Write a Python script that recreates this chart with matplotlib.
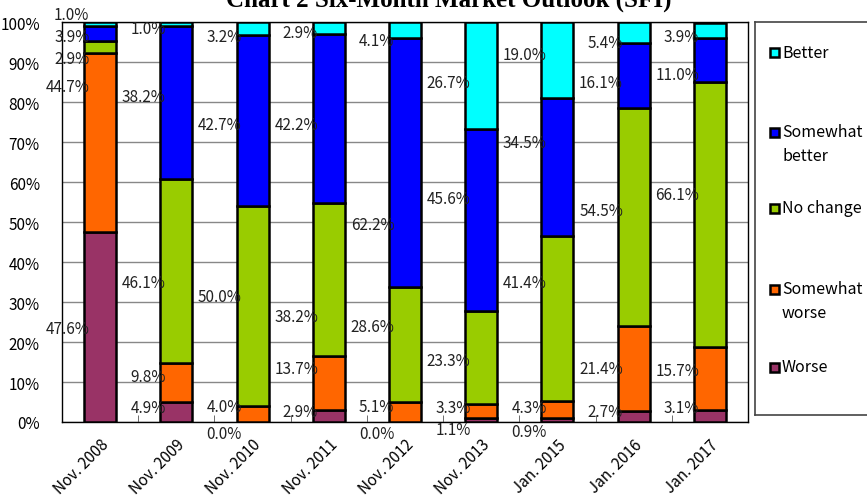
import matplotlib
matplotlib.use("Agg")
import numpy as np
from matplotlib import pyplot as plt
from matplotlib.patches import Rectangle

## Survey results (percent of respondents)
periods = ['Nov. 2008', 'Nov. 2009', 'Nov. 2010', 'Nov. 2011', 'Nov. 2012',
           'Nov. 2013', 'Jan. 2015', 'Jan. 2016', 'Jan. 2017']
worse = [47.6, 4.9, 0.0, 2.9, 0.0, 1.1, 0.9, 2.7, 3.1]
somewhat_worse = [44.7, 9.8, 4.0, 13.7, 5.1, 3.3, 4.3, 21.4, 15.7]
no_change = [2.9, 46.1, 50.0, 38.2, 28.6, 23.3, 41.4, 54.5, 66.1]
somewhat_better = [3.9, 38.2, 42.7, 42.2, 62.2, 45.6, 34.5, 16.1, 11.0]
better = [1.0, 1.0, 3.2, 2.9, 4.1, 26.7, 19.0, 5.4, 3.9]

series = [worse, somewhat_worse, no_change, somewhat_better, better]
names = ['Worse', 'Somewhat\nworse', 'No change', 'Somewhat\nbetter', 'Better']
colors = ['#993366', '#FF6600', '#99CC00', '#0000FF', '#00FFFF']

## Where each value label sits (percent height), per series
label_y = [
    [23.3, 3.5, -2.8, 2.5, -2.8, -2.0, -2.3, 2.5, 3.5],
    [83.8, 11.3, 3.8, 13.3, 3.8, 3.5, 3.5, 13.5, 12.8],
    [90.8, 34.8, 31.3, 26.3, 24.0, 15.3, 34.8, 53.0, 56.8],
    [96.3, 81.5, 74.5, 74.5, 49.5, 55.8, 69.8, 85.0, 86.8],
    [102.0, 98.3, 96.5, 97.3, 95.3, 84.8, 91.8, 95.0, 96.5],
]

plt.rcParams['font.family'] = ['Noto Sans CJK JP', 'DejaVu Sans']

fig = plt.figure(figsize=(8.67, 5.02), dpi=100)
ax = fig.add_axes([62 / 867, (502 - 423) / 502, (748 - 62) / 867, 400 / 502])

x = np.arange(len(periods))
width = 0.42
bottom = np.zeros(len(periods))
for vals, col in zip(series, colors):
    ax.bar(x, vals, width, bottom=bottom, color=col, edgecolor='black',
           linewidth=1.8, zorder=3)
    bottom += np.array(vals)

# value labels to the left of each bar
for vals, ys in zip(series, label_y):
    for i, (v, yy) in enumerate(zip(vals, ys)):
        ax.text(i - width / 2 + 0.07, yy, f'{v:.1f}%', ha='right', va='center',
                fontsize=11, color='#222222', zorder=4, clip_on=False)

ax.set_xlim(-0.5, len(periods) - 0.5)
ax.set_ylim(0, 100)
ax.set_yticks(np.arange(0, 101, 10))
ax.set_yticklabels([f'{t}%' for t in range(0, 101, 10)], fontsize=11)
ax.yaxis.grid(True, color='#888888', linewidth=1.0, zorder=0)
ax.tick_params(axis='y', length=0, pad=16)

# category labels, ticks at the boundaries
ax.set_xticks(x)
ax.set_xticklabels(periods, rotation=45, ha='right', rotation_mode='anchor',
                   fontsize=11)
ax.tick_params(axis='x', length=0, pad=10)
ax.set_xticks(np.arange(0.5, len(periods) - 0.5, 1), minor=True)
ax.tick_params(axis='x', which='minor', direction='in', length=5, color='#555555')
for s in ax.spines.values():
    s.set_color('black')
    s.set_linewidth(1.0)

fig.text(449 / 867, 1 - 7 / 502, 'Chart 2 Six-Month Market Outlook (SFI)',
         ha='center', va='baseline', fontsize=18, family='Liberation Serif',
         fontweight='bold')

## Legend panel
lax = fig.add_axes([755 / 867, (502 - 416) / 502, 0.2, 393 / 502])
lax.set_xlim(755, 755 + 0.2 * 867)
lax.set_ylim(416, 23)
lax.set_xticks([])
lax.set_yticks([])
for s in lax.spines.values():
    s.set_color('#444444')
    s.set_linewidth(1.2)

legend_y = [368, 290, 209, 133, 53]
for name, col, yy in zip(names, colors, legend_y):
    lax.add_patch(Rectangle((770, yy - 4.5), 9, 9, facecolor=col,
                            edgecolor='black', linewidth=1.8))
    first, *rest = name.split('\n')
    lax.text(782, yy, first, ha='left', va='center', fontsize=11.5)
    for j, line in enumerate(rest):
        lax.text(782, yy + 24 * (j + 1), line, ha='left', va='center',
                 fontsize=11.5)

fig.savefig('out.png', dpi=100)
